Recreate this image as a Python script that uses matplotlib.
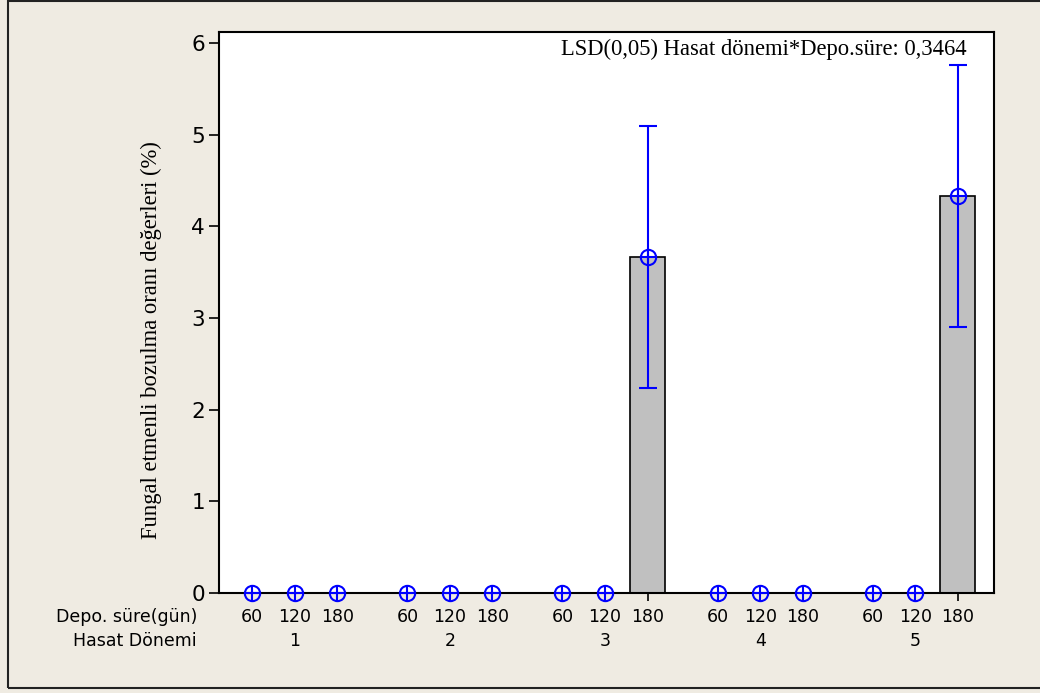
import matplotlib.pyplot as plt
from matplotlib.patches import Rectangle
from matplotlib.transforms import blended_transform_factory
import numpy as np

storage_days = ['60', '120', '180']
harvest_periods = ['1', '2', '3', '4', '5']
# means per harvest period x storage duration
means = [0, 0, 0,
         0, 0, 0,
         0, 0, 3.667,
         0, 0, 0,
         0, 0, 4.333]
ci_half = [0, 0, 0,
           0, 0, 0,
           0, 0, 1.43,
           0, 0, 0,
           0, 0, 1.43]

bg = '#EFEBE2'
blue = '#0000FF'
group_step = 3.65

fig = plt.figure(figsize=(10.4, 6.93), dpi=100, facecolor=bg)
ax = fig.add_axes([219 / 1040, 100 / 693, 775 / 1040, 561 / 693])
ax.set_facecolor('white')

x = np.array([g * group_step + i for g in range(len(harvest_periods))
              for i in range(len(storage_days))])
m = np.array(means)
e = np.array(ci_half)

ax.bar(x, m, width=0.82, color='#C0C0C0', edgecolor='black', linewidth=1.2, zorder=2)
nz = e > 0
ax.errorbar(x[nz], m[nz], yerr=e[nz], fmt='none', ecolor=blue, elinewidth=1.5,
            capsize=6.5, capthick=1.5, zorder=3)
ax.plot(x, m, 'o', ms=11, mfc='none', mec=blue, mew=1.5, zorder=4, clip_on=False)
ax.plot(x, m, '+', ms=11, mec=blue, mew=1.5, zorder=4, clip_on=False)

ax.set_xlim(-0.78, 17.45)
ax.set_ylim(0, 6.12)
ax.set_yticks(range(0, 7))
ax.tick_params(axis='y', labelsize=15.5, length=7, width=1.2, direction='out', pad=3)
ax.set_xticks(x)
ax.set_xticklabels([])
ax.tick_params(axis='x', length=6, width=1.2, direction='out')
for s in ax.spines.values():
    s.set_linewidth(1.5)

ax.set_ylabel('Fungal etmenli bozulma oranı değerleri (%)', family='Liberation Serif',
              fontsize=16.3)
ax.yaxis.set_label_coords(-0.0735, 0.451)

trans = blended_transform_factory(ax.transData, fig.transFigure)
for xi, lab in zip(x, storage_days * len(harvest_periods)):
    ax.text(xi, 1 - 617 / 693, lab, transform=trans, ha='center', va='center', fontsize=12.5)
for g, lab in enumerate(harvest_periods):
    ax.text(g * group_step + 1, 1 - 641 / 693, lab, transform=trans, ha='center',
            va='center', fontsize=12.5)
fig.text(197 / 1040, 1 - 617 / 693, 'Depo. süre(gün)', ha='right', va='center', fontsize=12.5)
fig.text(197 / 1040, 1 - 641 / 693, 'Hasat Dönemi', ha='right', va='center', fontsize=12.5)

fig.text(967 / 1040, 1 - 49 / 693, 'LSD(0,05) Hasat dönemi*Depo.süre: 0,3464',
         ha='right', va='center', family='Liberation Serif', fontsize=16.3)

fig.patches.append(Rectangle((8 / 1040, 5 / 693), 1.1, 687 / 693, transform=fig.transFigure,
                             fill=False, edgecolor='#222222', linewidth=1.5))

fig.savefig('out.png', dpi=100, facecolor=bg)
